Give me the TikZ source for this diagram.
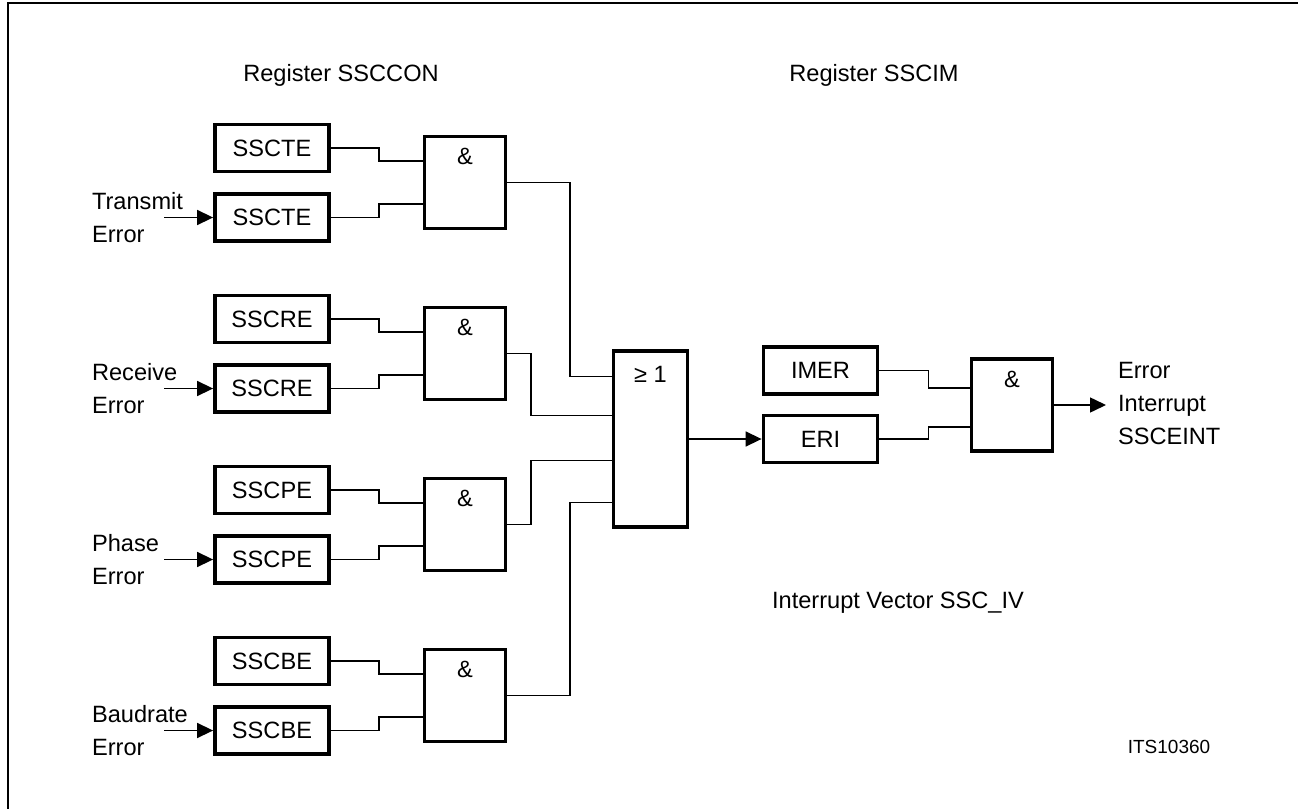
\documentclass[tikz,border=0pt]{standalone}
\usepackage{fontspec}
\setmainfont{Liberation Sans}
\usetikzlibrary{arrows.meta,positioning,calc}

\tikzset{
  regbox/.style={draw, line width=1.9pt, minimum width=57pt, minimum height=23.5pt, inner sep=0pt},
  gate/.style={draw, line width=1.7pt, minimum width=40.5pt, minimum height=46pt, inner sep=0pt},
  wire/.style={line width=0.75pt},
  sig/.style={wire, -{Triangle[length=8pt,width=7.5pt]}},
}

\begin{document}
\begin{tikzpicture}[x=0.5pt, y=-0.5pt, font=\fontsize{11.8}{16.5}\selectfont]
  \useasboundingbox (0,0) rectangle (1298,809);
  \draw[line width=1pt] (8,809) -- (8,3) -- (1298,3);

  \node (con) at (341,75) {Register SSCCON};
  \node (cim) at (874,75) {Register SSCIM};

  % enable / flag pairs feeding the AND gates
  \foreach \reg/\src [count=\i from 0] in {SSCTE/Transmit, SSCRE/Receive, SSCPE/Phase, SSCBE/Baudrate}{
    \pgfmathsetmacro{\yy}{148+171*\i}
    \node[regbox] (en\i) at (272,\yy) {\reg};
    \node[regbox] (fl\i) at (272,\yy+69.5) {\reg};
    \node[gate] (and\i) at (465,\yy+34.5) {};
    \node (amp\i) at ($(and\i.north)+(0,22)$) {\&};
    \node[align=left, anchor=west] (src\i) at (85,\yy+69.5) {\src\\Error};
    \coordinate (in\i) at (164,\yy+69.5);
    \draw[sig] (in\i) -- (fl\i.west);
    \draw[wire] (en\i.east) -- ++(48,0) |- ($(and\i.west)+(0,-21.5)$);
    \draw[wire] (fl\i.east) -- ++(48,0) |- ($(and\i.west)+(0,21.5)$);
  }

  \node[gate, minimum width=37pt, minimum height=88pt] (or) at (650.5,439) {};
  \node (ge) at ($(or.north)+(0,25)$) {≥ 1};
  \foreach \i/\dx/\dy in {0/63/-62.5, 1/24/-23.5, 2/24/21.5, 3/63/63.5}
    \draw[wire] (and\i.east) -- ++(\dx,0) |- ($(or.west)+(0,\dy)$);

  % interrupt mask part
  \node[regbox] (imer) at (820.5,370.5) {IMER};
  \node[regbox] (eri) at (820.5,439) {ERI};
  \draw[sig] (or.east) -- (eri.west);
  \node[gate] (int) at (1012,405) {};
  \node (amp) at ($(int.north)+(0,22)$) {\&};
  \draw[wire] (imer.east) -- ++(49,0) |- ($(int.west)+(0,-17)$);
  \draw[wire] (eri.east) -- ++(49,0) |- ($(int.west)+(0,22)$);
  \coordinate (out) at (1106,405);
  \draw[sig] (int.east) -- (out);
  \node[align=left, anchor=west] (sceint) at (1111,403) {Error\\Interrupt\\SSCEINT};

  \node (vec) at (898,603) {Interrupt Vector SSC\_IV};
  \node[font=\fontsize{9.5}{11}\selectfont] (its) at (1169,747) {ITS10360};
\end{tikzpicture}
\end{document}
